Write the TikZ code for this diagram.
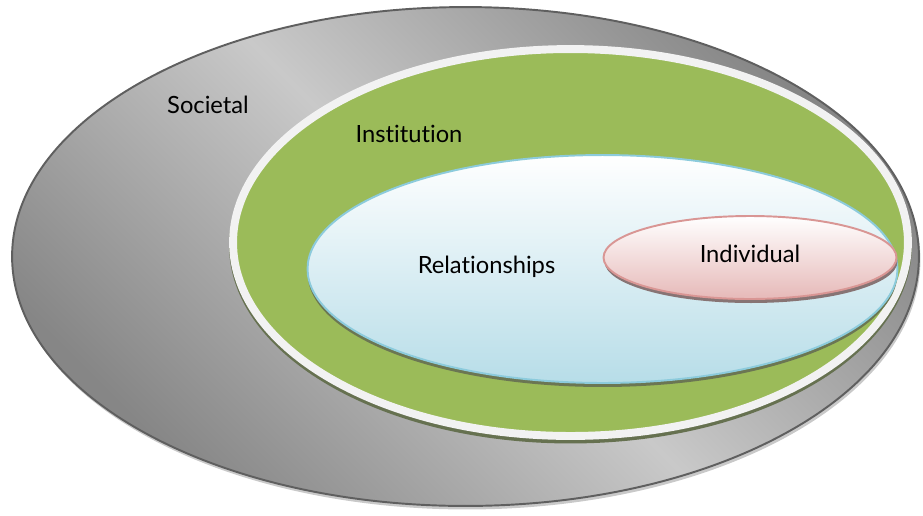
\documentclass[tikz,border=0pt]{standalone}
\usepackage{fontspec}
\setmainfont{Lato}[Ligatures={NoCommon,NoRare,NoDiscretionary}]
\usetikzlibrary{shapes.geometric}

\definecolor{grigioscuro}{HTML}{868686}
\definecolor{grigiochiaro}{HTML}{C9C9C9}
\definecolor{bordosoc}{HTML}{5F5F5F}
\definecolor{verdeist}{HTML}{9BBB59}
\definecolor{biancoist}{HTML}{F2F2F2}
\definecolor{azzurro}{HTML}{B7DDE8}
\definecolor{bordoazz}{HTML}{8CCBDC}
\definecolor{rosa}{HTML}{E6B9B8}
\definecolor{bordorosa}{HTML}{D99694}

\tikzset{
  livello/.style={ellipse, inner sep=0pt, outer sep=0pt},
  ombra/.style={livello, fill=#1},
  etichetta/.style={anchor=base, font=\fontsize{13.5}{16}\selectfont, text=black}
}

\begin{document}
\begin{tikzpicture}[x=0.02cm, y=-0.02cm]
        \useasboundingbox (0,0) rectangle (923,515);

        % Centri (in pixel)
        \coordinate (csoc) at (465.5,256.5);
        \coordinate (cist) at (570.5,242.5);
        \coordinate (crel) at (602.5,269);
        \coordinate (cind) at (750,257.5);

        % --- Livello Sociale ---
        \node[ombra=grigiochiaro, minimum width=18.14cm, minimum height=9.98cm] (socombra) at (467,260) {};
        \node[livello, draw=bordosoc, line width=1.1pt, top color=grigioscuro, bottom color=grigioscuro,
              middle color=grigiochiaro, shading angle=-45,
              minimum width=18.14cm, minimum height=9.98cm] (societal) at (csoc) {};

        % --- Livello Istituzionale ---
        \node[ombra=black!45!verdeist!60!gray, minimum width=13.66cm, minimum height=7.92cm] (istombra) at (570.5,245.5) {};
        \node[livello, fill=verdeist, draw=biancoist, line width=4.5pt,
              minimum width=13.5cm, minimum height=7.74cm] (institution) at (cist) {};

        % --- Relazioni ---
        \node[ombra=verdeist!45!black!80, minimum width=11.8cm, minimum height=4.56cm] (relombra) at (602.5,273) {};
        \node[livello, draw=bordoazz, line width=1.1pt, top color=white, bottom color=azzurro,
              minimum width=11.8cm, minimum height=4.56cm] (relationships) at (crel) {};

        % --- Individuo ---
        \node[ombra=black!40!rosa!70!gray, minimum width=5.86cm, minimum height=1.66cm] (indombra) at (751,261.5) {};
        \node[livello, draw=bordorosa, line width=1.1pt, top color=white, bottom color=rosa,
              minimum width=5.86cm, minimum height=1.66cm] (individual) at (cind) {};

        % --- Etichette ---
        \node[etichetta] (societaltxt) at (208,113) {Societal};
        \node[etichetta] (institutiontxt) at (409,142) {Institution};
        \node[etichetta] (relationshipstxt) at (486.5,273) {Relationships};
        \node[etichetta] (individualtxt) at (750,262) {Individual};

    \end{tikzpicture}
\end{document}
